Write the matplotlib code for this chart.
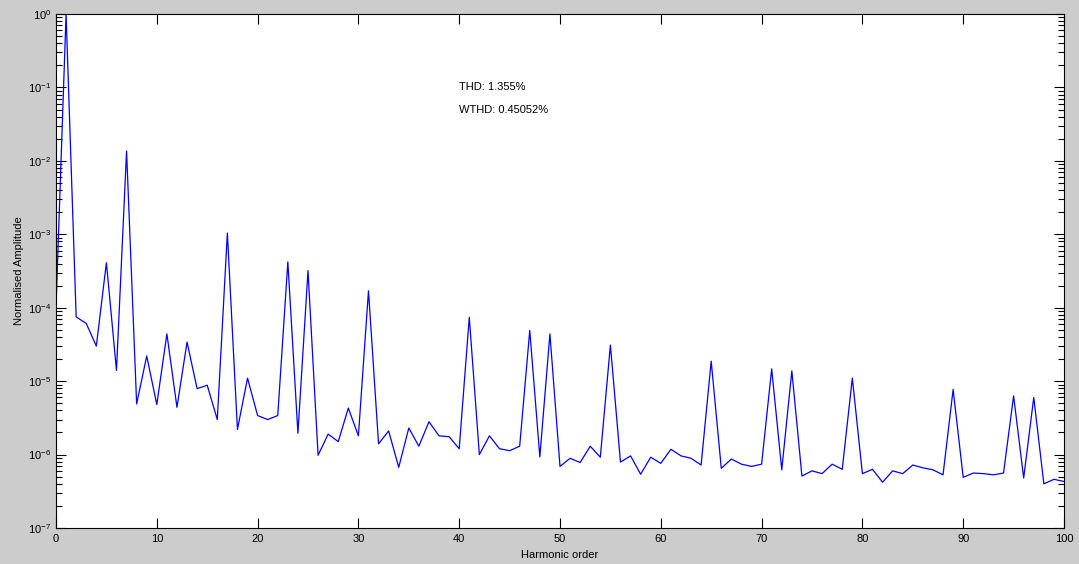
import matplotlib
matplotlib.use("Agg")
import matplotlib.pyplot as plt
import numpy as np

# harmonic spectrum, normalised to the fundamental
harmonic = list(range(0, 101))
amplitude = [
    1.0e-4, 1.0, 7.5e-5, 6.1e-5, 3.0e-5, 4.1e-4, 1.4e-5, 1.36e-2, 4.9e-6, 2.2e-5,
    4.8e-6, 4.4e-5, 4.4e-6, 3.4e-5, 7.9e-6, 8.8e-6, 3.0e-6, 1.04e-3, 2.2e-6, 1.1e-5,
    3.4e-6, 3.0e-6, 3.4e-6, 4.2e-4, 1.95e-6, 3.2e-4, 9.8e-7, 1.9e-6, 1.5e-6, 4.3e-6,
    1.8e-6, 1.7e-4, 1.4e-6, 2.1e-6, 6.7e-7, 2.3e-6, 1.3e-6, 2.8e-6, 1.8e-6, 1.75e-6,
    1.2e-6, 7.4e-5, 1.0e-6, 1.8e-6, 1.2e-6, 1.13e-6, 1.3e-6, 4.9e-5, 9.3e-7, 4.4e-5,
    6.9e-7, 8.9e-7, 7.8e-7, 1.3e-6, 9.2e-7, 3.1e-5, 7.9e-7, 9.6e-7, 5.4e-7, 9.2e-7,
    7.6e-7, 1.18e-6, 9.6e-7, 8.9e-7, 7.2e-7, 1.87e-5, 6.5e-7, 8.7e-7, 7.4e-7, 6.9e-7,
    7.4e-7, 1.47e-5, 6.2e-7, 1.38e-5, 5.1e-7, 6.0e-7, 5.5e-7, 7.4e-7, 6.3e-7, 1.1e-5,
    5.5e-7, 6.3e-7, 4.2e-7, 6.0e-7, 5.5e-7, 7.2e-7, 6.6e-7, 6.2e-7, 5.3e-7, 7.7e-6,
    4.9e-7, 5.6e-7, 5.5e-7, 5.3e-7, 5.6e-7, 6.3e-6, 4.8e-7, 6.0e-6, 4.0e-7, 4.6e-7,
    4.3e-7,
]
thd_text = "THD: 1.355%"
wthd_text = "WTHD: 0.45052%"

plt.rcParams['font.family'] = ['Liberation Sans', 'DejaVu Sans']
plt.rcParams['font.size'] = 8
plt.rcParams['mathtext.fontset'] = 'custom'
plt.rcParams['mathtext.rm'] = 'Liberation Sans'
plt.rcParams['axes.unicode_minus'] = False

fig = plt.figure(figsize=(10.79, 5.64), dpi=100, facecolor='#cccccc')
ax = fig.add_axes([56 / 1079, 36 / 564, 1008 / 1079, 514 / 564])
ax.set_facecolor('white')

ax.semilogy(harmonic, amplitude, color='#0000ff', lw=0.9)
ax.set_xlim(0, 100)
ax.set_ylim(1e-7, 1)
ax.set_xticks(np.arange(0, 101, 10))

ax.tick_params(which='both', direction='in', top=True, right=True, colors='black')
ax.tick_params(which='major', length=7, width=0.8, labelsize=8)
ax.tick_params(which='minor', length=4, width=0.8)
ax.tick_params(axis='x', which='major', pad=4)
for s in ax.spines.values():
    s.set_linewidth(0.8)

ax.text(40, 0.1, thd_text, va='center', ha='left', fontsize=8)
ax.text(40, 0.05, wthd_text, va='center', ha='left', fontsize=8)

ax.set_xlabel("Harmonic order", labelpad=5)
ax.set_ylabel("Normalised Amplitude", labelpad=3)

fig.savefig("out.png", dpi=100, facecolor=fig.get_facecolor())
